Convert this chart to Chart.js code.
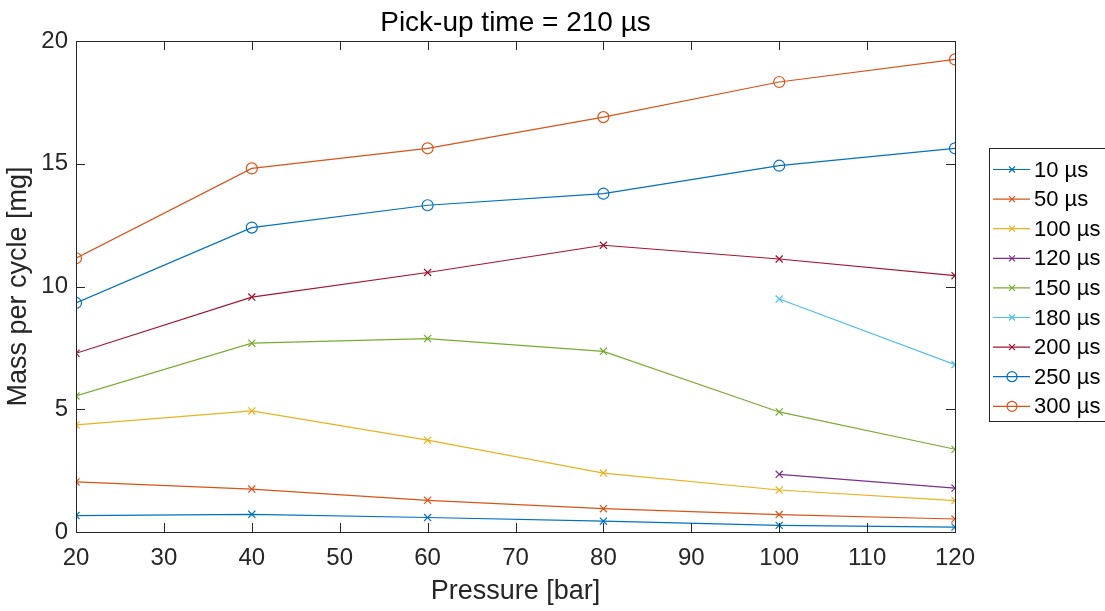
<!DOCTYPE html>
<html>
<head>
<meta charset="utf-8">
<script src="https://cdn.jsdelivr.net/npm/chart.js@4/dist/chart.umd.min.js"></script>
<style>
  html, body { margin: 0; padding: 0; background: #fff; }
  #wrap { width: 1105px; height: 611px; }
</style>
</head>
<body>
<div id="wrap"><canvas id="massChart"></canvas></div>
<script>
// pressure points [bar]
const pressures = [20, 40, 60, 80, 100, 120];

// mass per cycle [mg] for each energizing time
const mass10  = [0.67, 0.72, 0.59, 0.44, 0.27, 0.20];
const mass50  = [2.04, 1.75, 1.29, 0.95, 0.71, 0.53];
const mass100 = [4.36, 4.93, 3.74, 2.40, 1.71, 1.28];
const mass120 = [null, null, null, null, 2.35, 1.79];
const mass150 = [5.54, 7.69, 7.88, 7.36, 4.89, 3.37];
const mass180 = [null, null, null, null, 9.49, 6.82];
const mass200 = [7.28, 9.57, 10.57, 11.68, 11.12, 10.44];
const mass250 = [9.33, 12.40, 13.31, 13.78, 14.92, 15.63];
const mass300 = [11.15, 14.81, 15.63, 16.90, 18.33, 19.25];

const seriesLabels = ["10 µs", "50 µs", "100 µs", "120 µs", "150 µs", "180 µs", "200 µs", "250 µs", "300 µs"];
const seriesData = [mass10, mass50, mass100, mass120, mass150, mass180, mass200, mass250, mass300];
const seriesColors = ["#0072BD", "#D95319", "#EDB120", "#7E2F8E", "#77AC30", "#4DBEEE", "#A2142F", "#0072BD", "#D95319"];
const seriesMarkers = ["crossRot", "crossRot", "crossRot", "crossRot", "crossRot", "crossRot", "crossRot", "circle", "circle"];

const xTicks = [20, 30, 40, 50, 60, 70, 80, 90, 100, 110, 120];
const yTicks = [0, 5, 10, 15, 20];

const FONT = "'Liberation Sans', Arial, Helvetica, sans-serif";
const AXIS_COLOR = "#262626";

const datasets = seriesData.map((vals, i) => ({
    label: seriesLabels[i],
    data: pressures.map((p, j) => ({ x: p, y: vals[j] })).filter(d => d.y !== null),
    borderColor: seriesColors[i],
    backgroundColor: "rgba(0,0,0,0)",
    borderWidth: 1.2,
    pointStyle: seriesMarkers[i],
    pointRadius: seriesMarkers[i] === "circle" ? 5.5 : 5,
    pointBorderWidth: 1.2,
    pointBorderColor: seriesColors[i],
    pointBackgroundColor: "rgba(0,0,0,0)",
    tension: 0
}));

/* box around the axes, inward ticks on all four sides, title and legend */
const matlabAxes = {
    id: "matlabAxes",
    afterDraw(chart) {
        const { ctx, chartArea: a, scales } = chart;
        ctx.save();
        ctx.strokeStyle = AXIS_COLOR;
        ctx.lineWidth = 1;
        ctx.strokeRect(a.left + 0.5, a.top + 0.5, a.right - a.left, a.bottom - a.top);

        const tl = 9;
        ctx.beginPath();
        xTicks.forEach(v => {
            const x = Math.round(scales.x.getPixelForValue(v)) + 0.5;
            ctx.moveTo(x, a.bottom); ctx.lineTo(x, a.bottom - tl);
            ctx.moveTo(x, a.top); ctx.lineTo(x, a.top + tl);
        });
        yTicks.forEach(v => {
            const y = Math.round(scales.y.getPixelForValue(v)) + 0.5;
            ctx.moveTo(a.left, y); ctx.lineTo(a.left + tl, y);
            ctx.moveTo(a.right, y); ctx.lineTo(a.right - tl, y);
        });
        ctx.stroke();

        // title
        ctx.fillStyle = "#000";
        ctx.font = "28px " + FONT;
        ctx.textAlign = "center";
        ctx.textBaseline = "alphabetic";
        ctx.fillText("Pick-up time = 210 µs", (a.left + a.right) / 2, 31);

        // legend
        const lx = 989, ly = 148, lw = 117, lh = 274;
        ctx.fillStyle = "#fff";
        ctx.fillRect(lx, ly, lw, lh);
        ctx.strokeStyle = AXIS_COLOR;
        ctx.strokeRect(lx + 0.5, ly + 0.5, lw - 1, lh - 1);
        ctx.font = "22px " + FONT;
        ctx.textAlign = "left";
        ctx.textBaseline = "middle";
        chart.data.datasets.forEach((ds, i) => {
            const y = 169.5 + i * 29.6;
            ctx.strokeStyle = ds.borderColor;
            ctx.lineWidth = 1.2;
            ctx.beginPath();
            ctx.moveTo(993, y); ctx.lineTo(1030, y);
            ctx.stroke();
            ctx.beginPath();
            if (ds.pointStyle === "circle") {
                ctx.arc(1012, y, 5, 0, Math.PI * 2);
            } else {
                ctx.moveTo(1009, y - 3); ctx.lineTo(1015, y + 3);
                ctx.moveTo(1009, y + 3); ctx.lineTo(1015, y - 3);
            }
            ctx.stroke();
            ctx.fillStyle = "#000";
            ctx.fillText(ds.label, 1034, y + 1);
        });
        ctx.restore();
    }
};

new Chart(document.getElementById("massChart"), {
    type: "line",
    data: { datasets },
    options: {
        responsive: true,
        maintainAspectRatio: false,
        animation: false,
        layout: { padding: { left: 0, right: 150, top: 41, bottom: 0 } },
        plugins: {
            legend: { display: false },
            tooltip: { enabled: false }
        },
        scales: {
            x: {
                type: "linear",
                min: 20, max: 120,
                afterFit: s => { s.height = 79; },
                afterBuildTicks: s => { s.ticks = xTicks.map(v => ({ value: v })); },
                grid: { display: false, drawTicks: false },
                border: { display: false },
                ticks: { color: AXIS_COLOR, font: { family: FONT, size: 24 }, padding: 12, maxRotation: 0 },
                title: { display: true, text: "Pressure [bar]", color: AXIS_COLOR, font: { family: FONT, size: 27 }, padding: { top: 4, bottom: 3 } }
            },
            y: {
                type: "linear",
                min: 0, max: 20,
                afterFit: s => { s.width = 76; },
                afterBuildTicks: s => { s.ticks = yTicks.map(v => ({ value: v })); },
                grid: { display: false, drawTicks: false },
                border: { display: false },
                ticks: { color: AXIS_COLOR, font: { family: FONT, size: 24 }, padding: 8 },
                title: { display: true, text: "Mass per cycle [mg]", color: AXIS_COLOR, font: { family: FONT, size: 27 }, padding: { top: 2, bottom: 0 } }
            }
        }
    },
    plugins: [matlabAxes]
});
</script>
</body>
</html>
